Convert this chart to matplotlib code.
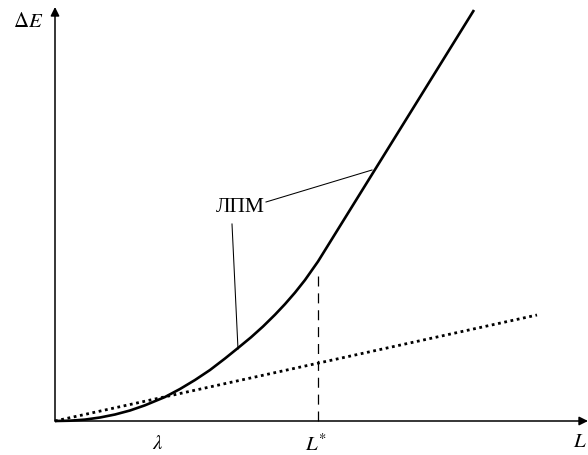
import matplotlib
matplotlib.use('Agg')
import matplotlib.pyplot as plt

plt.rcParams['font.family'] = ['Liberation Serif', 'DejaVu Serif']
plt.rcParams['mathtext.fontset'] = 'stix'

# curve ЛПМ (arbitrary units, origin at axes corner)
L = [0, 15, 30, 45, 60, 75, 90, 110, 125, 140, 155, 170, 183, 196,
     208, 220, 230, 240, 250, 263, 419]
dE = [0, 0.3, 1.4, 3.5, 6.5, 10.5, 15.7, 24, 32, 41, 51, 62.5, 73, 83.7,
      94.5, 106.3, 116.9, 128.4, 141, 159.5, 411]

# dotted straight line
L_dot = [0, 482]
dE_dot = [0, 106]

# L* marker
L_star = 263
dE_star = 149

# pointer lines from label
label_pos = (185, 215)
ptr1 = ([211, 317], [219, 251])
ptr2 = ([177, 183], [197, 72])

fig = plt.figure(figsize=(5.88, 4.56), dpi=100)
ax = fig.add_axes([0, 0, 1, 1])
ax.set_xlim(-55, 533)
ax.set_ylim(-34, 422)
ax.axis('off')

# axes with arrows
arrow = dict(arrowstyle='-|>', lw=1.1, color='black', mutation_scale=13,
             shrinkA=0, shrinkB=0)
ax.annotate('', xy=(533, 0), xytext=(0, 0), arrowprops=arrow)
ax.annotate('', xy=(0, 414), xytext=(0, 0), arrowprops=arrow)

ax.plot(L, dE, color='black', lw=1.9, solid_capstyle='butt',
        solid_joinstyle='round')
ax.plot(L_dot, dE_dot, color='black', lw=2.0, linestyle=(0, (1, 1.3)))
ax.plot([L_star, L_star], [0, dE_star], color='black', lw=0.9,
        linestyle=(0, (8, 5.5)))

ax.plot(*ptr1, color='black', lw=0.75)
ax.plot(*ptr2, color='black', lw=0.75)
ax.text(label_pos[0], label_pos[1], 'ЛПМ', fontsize=15.5, ha='center',
        va='center')

ax.text(-27, 400, r'$\Delta E$', fontsize=15, ha='center', va='center')
ax.text(103, -23, r'$\lambda$', fontsize=15, ha='center', va='center')
ax.text(261, -23, r'$L^{*}$', fontsize=15, ha='center', va='center')
ax.text(525, -21, r'$L$', fontsize=15, ha='center', va='center')

fig.savefig('out.png', dpi=100)
